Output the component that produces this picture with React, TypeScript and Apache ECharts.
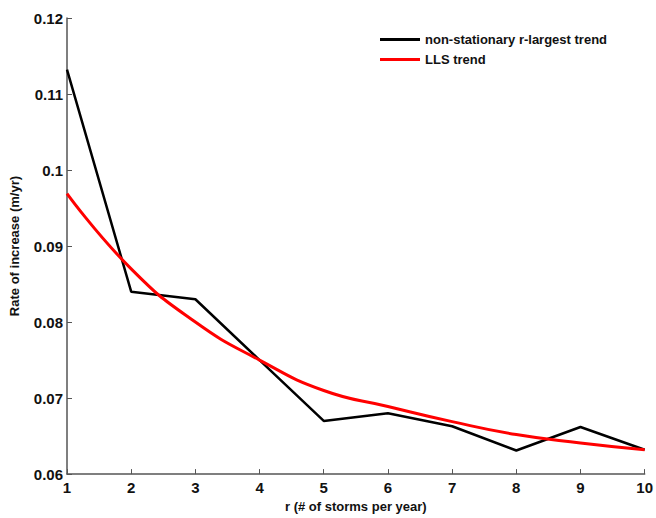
import React, { useEffect, useRef } from "react";
import * as echarts from "echarts";

const rValues = [1, 2, 3, 4, 5, 6, 7, 8, 9, 10];
const nonStationary = [0.1132, 0.084, 0.083, 0.075, 0.067, 0.068, 0.0663, 0.0631, 0.0662, 0.0632];
const llsTrend = [0.0969, 0.087, 0.08, 0.075, 0.071, 0.0689, 0.0669, 0.0652, 0.0641, 0.0632];

export default function App() {
  const ref = useRef<HTMLDivElement>(null);
  useEffect(() => {
    document.body.style.margin = "0";
    const chart = echarts.init(ref.current!, null, { renderer: "svg" });
    const font = "Liberation Sans, Arial, sans-serif";
    chart.setOption({
      animation: false,
      backgroundColor: "#ffffff",
      grid: { left: 66, top: 18, width: 582, height: 460 },
      legend: {
        orient: "vertical",
        left: 375,
        top: 28,
        itemWidth: 40,
        itemHeight: 3,
        itemGap: 7,
        icon: "rect",
        textStyle: { fontFamily: font, fontWeight: "bold", fontSize: 13, color: "#111" },
        data: ["non-stationary r-largest trend", "LLS trend"],
      },
      xAxis: {
        type: "value",
        min: 1,
        max: 10,
        interval: 1,
        name: "r (# of storms per year)",
        nameLocation: "middle",
        nameGap: 25,
        nameTextStyle: { fontFamily: font, fontWeight: "bold", fontSize: 13, color: "#111" },
        axisLine: { lineStyle: { color: "#555", width: 1.5 } },
        axisTick: { inside: true, length: 5, lineStyle: { color: "#555" } },
        axisLabel: { fontFamily: font, fontWeight: "bold", fontSize: 15, color: "#111", margin: 6 },
        splitLine: { show: false },
      },
      yAxis: {
        type: "value",
        min: 0.06,
        max: 0.12,
        interval: 0.01,
        name: "Rate of increase (m/yr)",
        nameLocation: "middle",
        nameGap: 46,
        nameTextStyle: { fontFamily: font, fontWeight: "bold", fontSize: 13, color: "#111" },
        axisLine: { show: true, lineStyle: { color: "#555", width: 1.5 } },
        axisTick: { show: true, inside: true, length: 5, lineStyle: { color: "#555" } },
        axisLabel: {
          fontFamily: font,
          fontWeight: "bold",
          fontSize: 15,
          color: "#111",
          margin: 4,
          formatter: (v: number) => String(Number(v.toFixed(2))),
        },
        splitLine: { show: false },
      },
      series: [
        {
          name: "non-stationary r-largest trend",
          type: "line",
          data: rValues.map((r, i) => [r, nonStationary[i]]),
          showSymbol: false,
          symbol: "none",
          lineStyle: { color: "#000", width: 2.5 },
          itemStyle: { color: "#000" },
        },
        {
          name: "LLS trend",
          type: "line",
          smooth: true,
          data: rValues.map((r, i) => [r, llsTrend[i]]),
          showSymbol: false,
          symbol: "none",
          lineStyle: { color: "#ff0000", width: 3 },
          itemStyle: { color: "#ff0000" },
        },
      ],
    });
    return () => chart.dispose();
  }, []);
  return <div ref={ref} style={{ width: 656, height: 518 }} />;
}
